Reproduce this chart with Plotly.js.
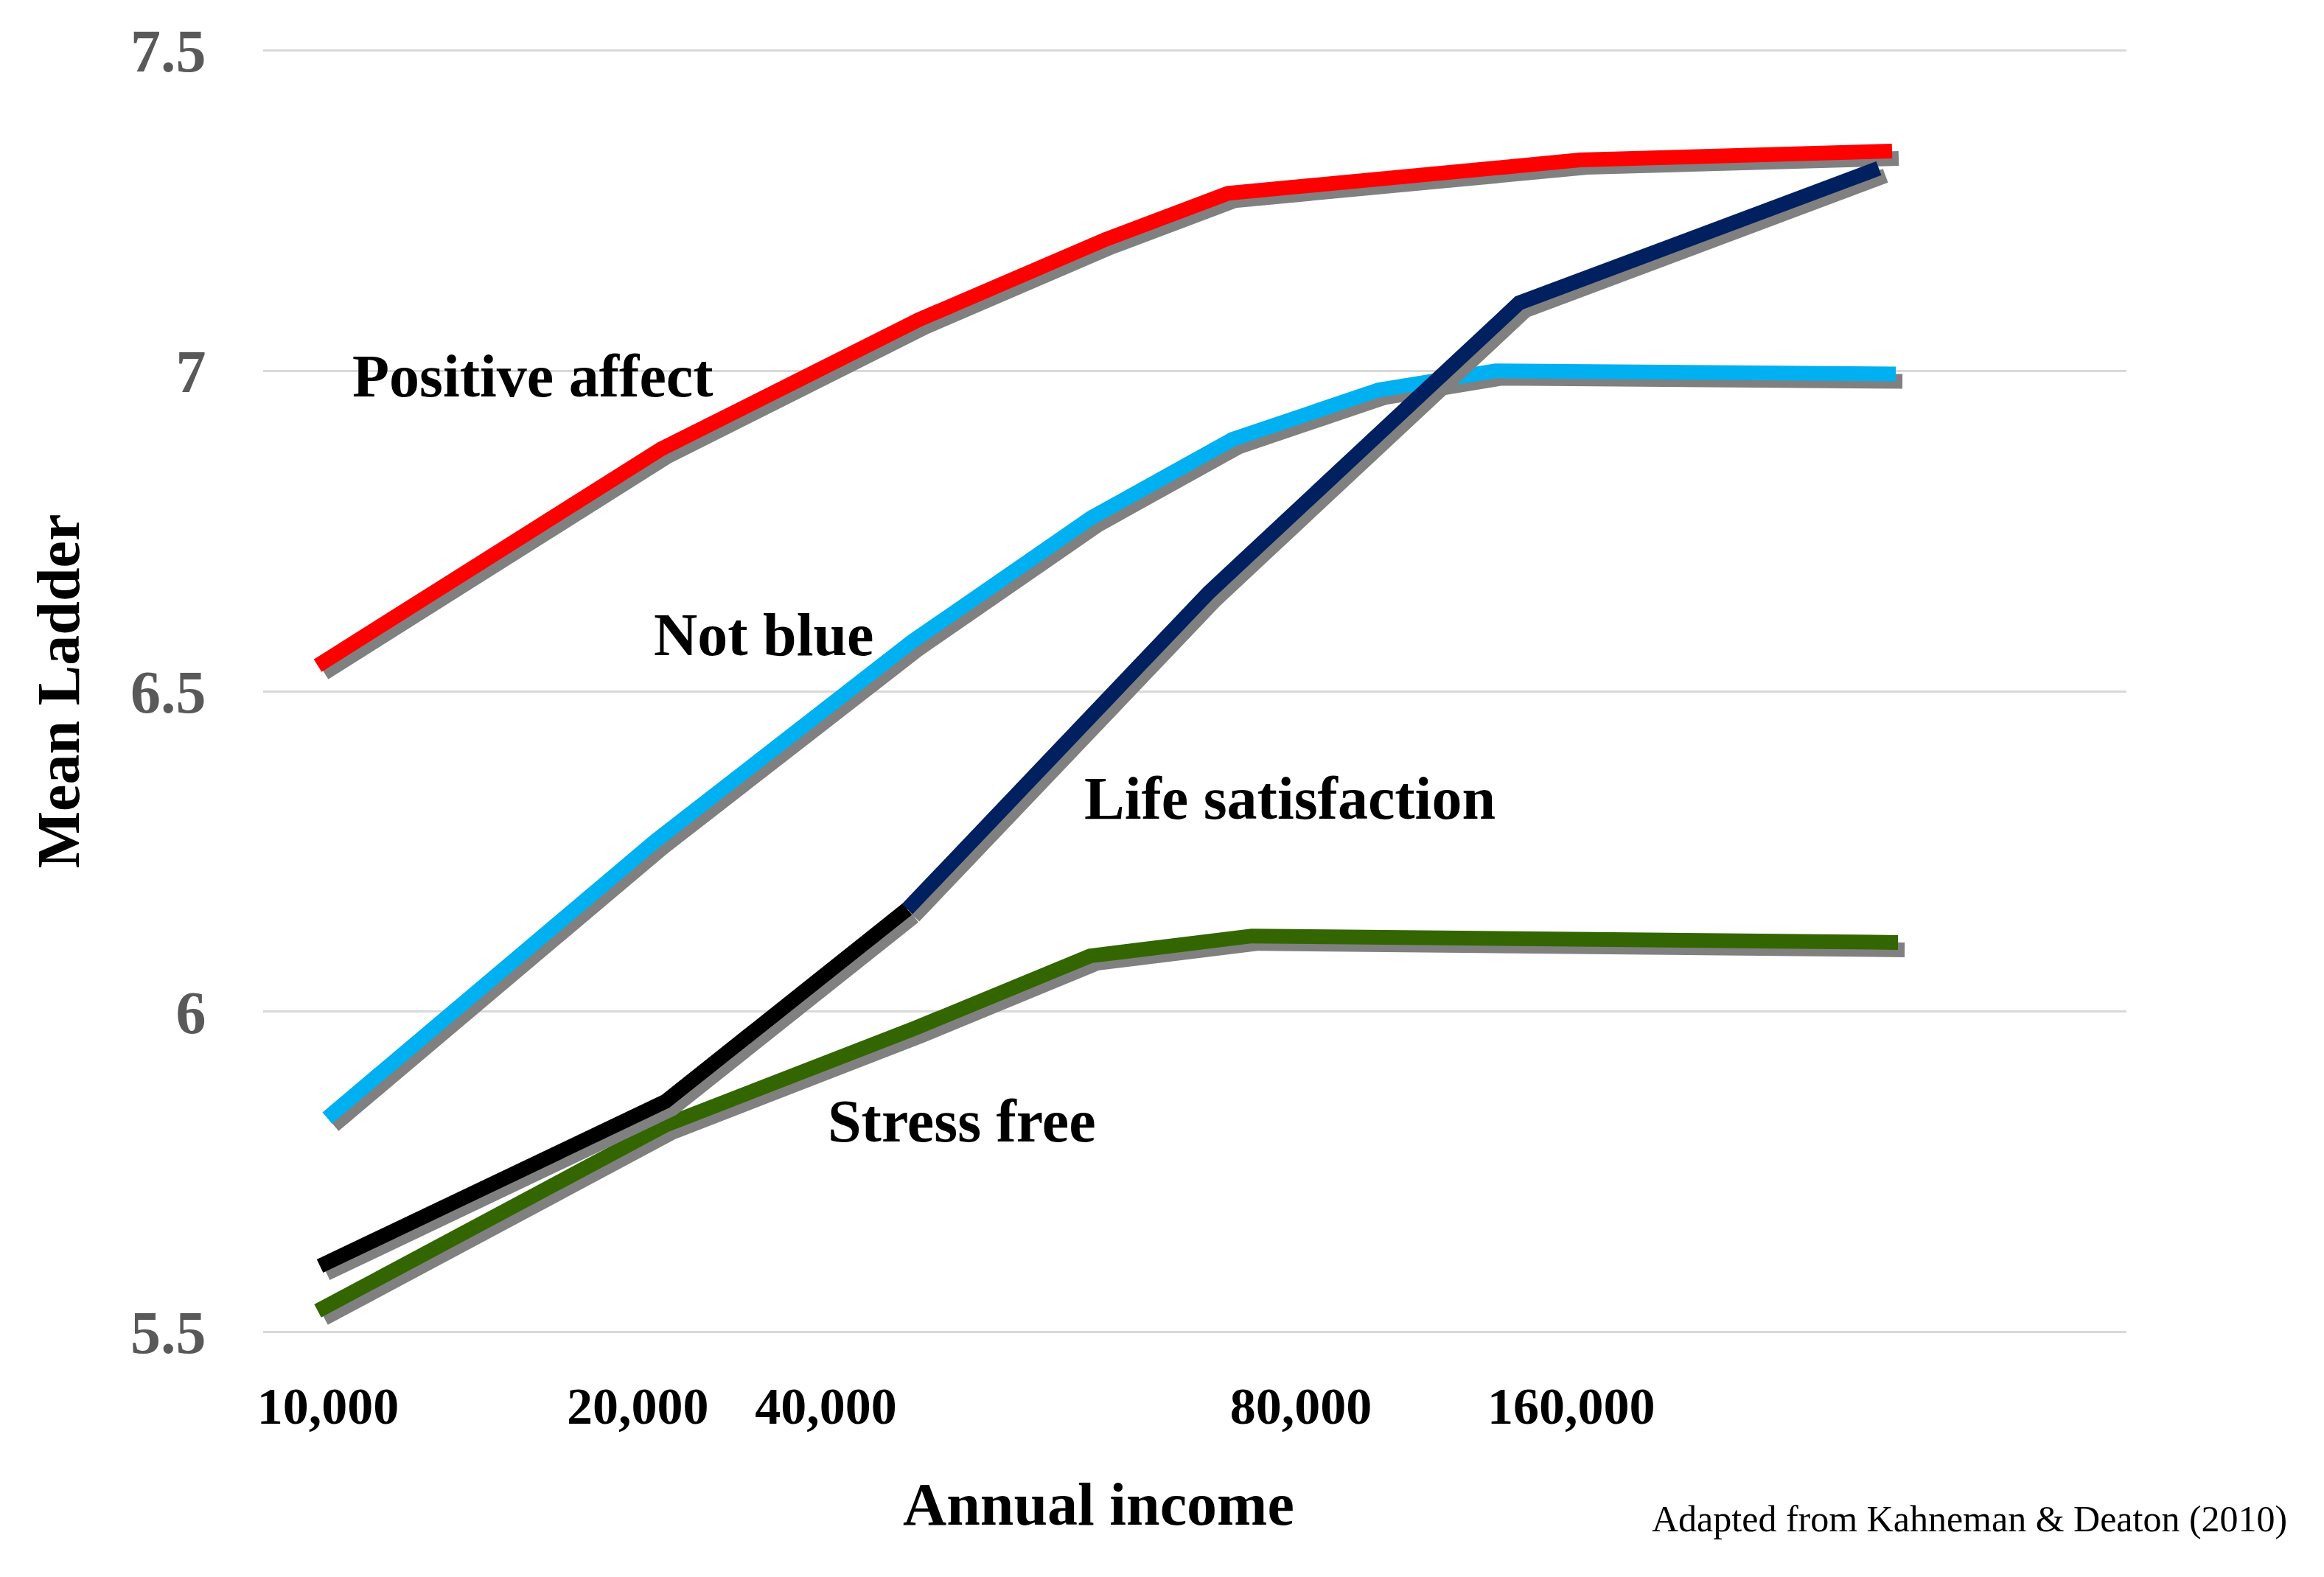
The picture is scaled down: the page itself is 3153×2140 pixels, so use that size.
<!DOCTYPE html>
<html>
<head>
<meta charset="utf-8">
<script src="https://cdn.plot.ly/plotly-3.0.1.min.js"></script>
<style>
  html, body { margin: 0; padding: 0; background: #ffffff; }
  #chart { width: 3153px; height: 2140px; }
</style>
</head>
<body>
<div id="chart"></div>
<script>
// ---- Data (x = position along the income axis, 0..100) ----
const positiveX = [2.93, 21.36, 35.21, 45.21, 51.78, 70.69, 87.42];
const positiveY = [6.540, 6.878, 7.080, 7.205, 7.277, 7.329, 7.343];

const notBlueX = [3.44, 21.08, 34.85, 44.46, 52.02, 59.85, 66.14, 87.62];
const notBlueY = [5.834, 6.267, 6.578, 6.771, 6.893, 6.970, 7.000, 6.995];

const lifeLowX = [3.05, 21.60, 34.57];
const lifeLowY = [5.603, 5.860, 6.160];
const lifeHighX = [34.57, 50.75, 67.41, 86.71];
const lifeHighY = [6.160, 6.654, 7.106, 7.316];

const stressX = [2.93, 21.60, 34.97, 44.38, 53.05, 87.74];
const stressY = [5.533, 5.823, 5.974, 6.087, 6.118, 6.108];

const xTickVals = [3.48, 20.1, 30.2, 55.7, 70.2];
const xTickText = ['10,000', '20,000', '40,000', '80,000', '160,000'];
const yTickVals = [5.5, 6, 6.5, 7, 7.5];
const yTickText = ['5.5', '6', '6.5', '7', '7.5'];

const seriesLabels = ['Positive affect', 'Not blue', 'Life satisfaction', 'Stress free'];

// ---- Layout constants ----
const W = 3153, H = 2140;
const M = { l: 357, r: 268, t: 51, b: 315 };
const xRange = [0, 100];
const yRange = [5.48, 7.52];
const plotW = W - M.l - M.r;
const plotH = H - M.t - M.b;
const unitX = plotW / (xRange[1] - xRange[0]);
const unitY = plotH / (yRange[1] - yRange[0]);
const shadowDx = 9 / unitX;     // shadow offset in pixels -> data units
const shadowDy = -10 / unitY;
const LW = 20;
const SHADOW = '#808080';
const FONT = 'Liberation Serif, Times New Roman, serif';

function lineTrace(x, y, color) {
  return { x: x, y: y, type: 'scatter', mode: 'lines', hoverinfo: 'skip',
           line: { color: color, width: LW, shape: 'linear' }, showlegend: false };
}
function shadowTrace(x, y) {
  return lineTrace(x.map(v => v + shadowDx), y.map(v => v + shadowDy), SHADOW);
}

const traces = [
  shadowTrace(stressX, stressY), lineTrace(stressX, stressY, '#336600'),
  shadowTrace(notBlueX, notBlueY), lineTrace(notBlueX, notBlueY, '#00B0F0'),
  shadowTrace(positiveX, positiveY), lineTrace(positiveX, positiveY, '#FF0000'),
  shadowTrace(lifeLowX, lifeLowY), shadowTrace(lifeHighX, lifeHighY),
  lineTrace(lifeLowX, lifeLowY, '#000000'), lineTrace(lifeHighX, lifeHighY, '#002060')
];

const labelFont = { family: FONT, size: 82, color: '#000000', weight: 'bold' };
const annotations = [
  { text: seriesLabels[0], x: 14.44, y: 6.992 },
  { text: seriesLabels[1], x: 26.86, y: 6.588 },
  { text: seriesLabels[2], x: 55.10, y: 6.333 },
  { text: seriesLabels[3], x: 37.50, y: 5.829 }
].map(a => Object.assign({ xref: 'x', yref: 'y', showarrow: false,
  xanchor: 'center', yanchor: 'middle', font: labelFont }, a));

annotations.push({ text: 'Annual income', xref: 'paper', yref: 'paper',
  x: 0.4482, y: -0.1218, xanchor: 'center', yanchor: 'middle', showarrow: false,
  font: { family: FONT, size: 82, color: '#000000', weight: 'bold' } });
annotations.push({ text: 'Adapted from Kahneman &amp; Deaton (2010)', xref: 'paper', yref: 'paper',
  x: 0.9158, y: -0.133, xanchor: 'center', yanchor: 'middle', showarrow: false,
  font: { family: FONT, size: 50, color: '#000000' } });

const layout = {
  width: W, height: H,
  margin: M,
  paper_bgcolor: '#ffffff', plot_bgcolor: '#ffffff',
  showlegend: false,
  xaxis: {
    range: xRange, showgrid: false, zeroline: false, showline: false,
    tickmode: 'array', tickvals: xTickVals, ticktext: xTickText,
    ticks: 'outside', ticklen: 22, tickcolor: 'rgba(0,0,0,0)',
    tickfont: { family: FONT, size: 70, color: '#000000', weight: 'bold' }
  },
  yaxis: {
    range: yRange, zeroline: false, showline: false,
    showgrid: true, gridcolor: '#D9D9D9', gridwidth: 3,
    tickmode: 'array', tickvals: yTickVals, ticktext: yTickText,
    ticks: 'outside', ticklen: 60, tickcolor: 'rgba(0,0,0,0)',
    tickfont: { family: FONT, size: 82, color: '#595959', weight: 'bold' },
    title: { text: 'Mean Ladder', standoff: 42,
             font: { family: FONT, size: 82, color: '#000000', weight: 'bold' } }
  },
  annotations: annotations
};

Plotly.newPlot('chart', traces, layout, { displayModeBar: false, staticPlot: true });
</script>
</body>
</html>
